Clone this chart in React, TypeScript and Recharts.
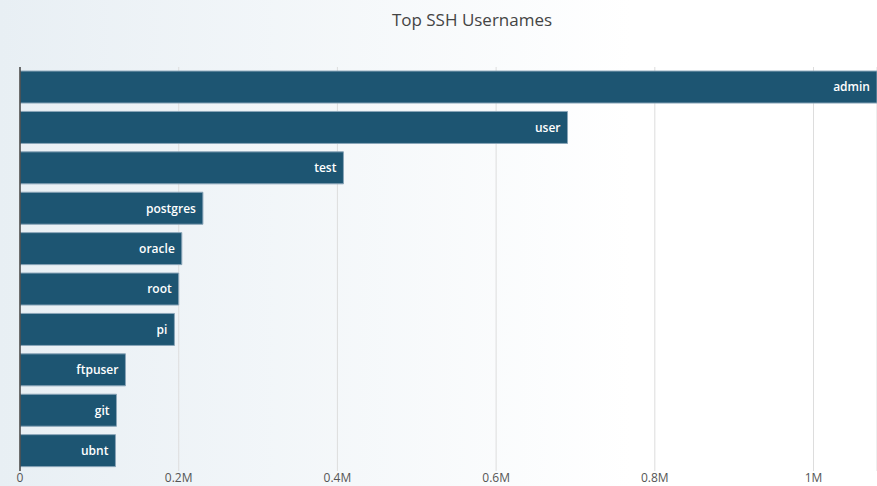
import { BarChart, Bar, XAxis, YAxis, CartesianGrid, LabelList, ReferenceLine } from 'recharts';

const usernames = ['admin', 'user', 'test', 'postgres', 'oracle', 'root', 'pi', 'ftpuser', 'git', 'ubnt'];
const attempts = [1080000, 690000, 407600, 230500, 203900, 200000, 194600, 132900, 121600, 120300];
const xTicks = [0, 200000, 400000, 600000, 800000, 1000000];

const data = usernames.map((name, i) => ({ name, value: attempts[i] }));

const formatTick = (v: number) => (v === 0 ? '0' : `${+(v / 1e6).toFixed(1)}M`);

export default function App() {
  return (
    <div
      style={{
        position: 'fixed',
        left: 0,
        top: 0,
        width: 877,
        height: 486,
        background: 'linear-gradient(to right, #e8eff4 0%, #ffffff 72%)',
        fontFamily: '"Open Sans", sans-serif',
        overflow: 'hidden'
      }}
    >
      <div
        style={{
          position: 'absolute',
          top: 8,
          left: 0,
          width: 944,
          textAlign: 'center',
          fontSize: 17,
          color: '#444',
        }}
      >
        Top SSH Usernames
      </div>
      <BarChart
        width={877}
        height={486}
        data={data}
        layout="vertical"
        margin={{ top: 67, right: 0, bottom: 0, left: 20 }}
        barCategoryGap="10%"
      >
        <CartesianGrid horizontal={false} stroke="#dddddd" />
        <XAxis
          type="number"
          domain={[0, 1080000]}
          ticks={xTicks}
          tickFormatter={formatTick}
          axisLine={false}
          tickLine={false}
          tickSize={0}
          tickMargin={2}
          height={15}
          tick={{ fill: '#555', fontSize: 12 }}
          allowDataOverflow
        />
        <YAxis type="category" dataKey="name" width={0} tick={false} tickLine={false} axisLine={false} />
        <Bar dataKey="value" fill="#1d5572" stroke="#8aa5b8" strokeWidth={1} isAnimationActive={false}>
          <LabelList
            dataKey="name"
            position="insideRight"
            offset={7}
            fill="#ffffff"
            fontSize={12}
            fontWeight={600}
          />
        </Bar>
        <ReferenceLine x={0} stroke="#444" strokeWidth={1.5} zIndex={1000} />
      </BarChart>
    </div>
  );
}
